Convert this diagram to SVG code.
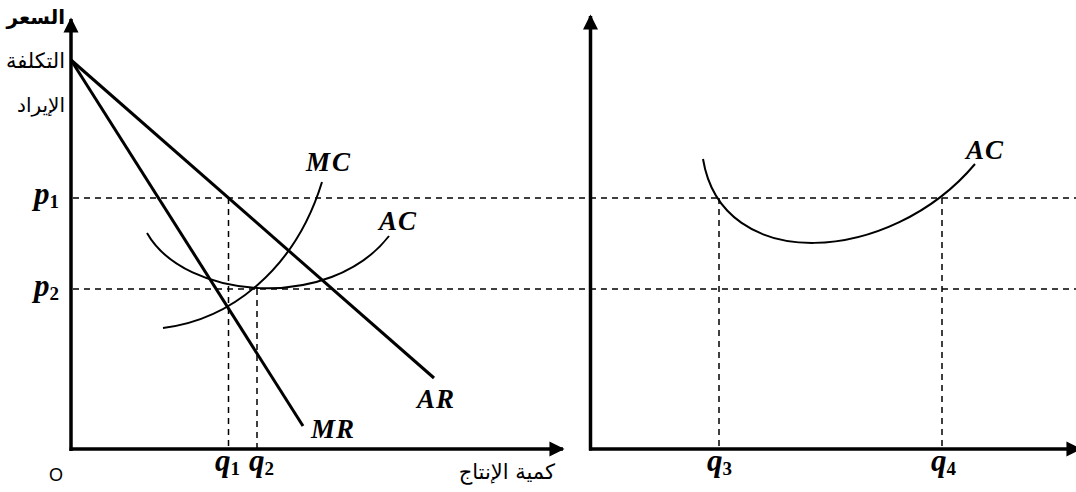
<svg xmlns="http://www.w3.org/2000/svg" width="1076" height="492" viewBox="0 0 1076 492">
<style>
.axis{stroke:#000;stroke-width:3.5;fill:none}
.line{stroke:#000;stroke-width:3;fill:none;stroke-linecap:butt}
.curve{stroke:#000;stroke-width:2;fill:none}
.dash{stroke:#000;stroke-width:1.5;stroke-dasharray:6,5;fill:none}
.math{font-family:"Liberation Serif","DejaVu Serif",serif;font-weight:bold;font-style:italic;fill:#000}
.sub{font-style:normal;font-weight:bold}
.ar{font-family:"DejaVu Sans","Noto Sans",sans-serif;fill:#000}
</style>
<defs>
<marker id="arrow" viewBox="0 0 10 10" refX="9" refY="5" markerWidth="4.3" markerHeight="4.3" markerUnits="strokeWidth" orient="auto">
<path d="M0,0 L10,5 L0,10 Z" fill="#000"/>
</marker>
</defs>
<rect width="1076" height="492" fill="#fff"/>
<g id="connectors">
<line class="dash" x1="73" y1="198" x2="1076" y2="198"/>
<line class="dash" x1="73" y1="289" x2="1076" y2="289"/>
<line class="dash" x1="228.5" y1="198" x2="228.5" y2="448"/>
<line class="dash" x1="257" y1="289" x2="257" y2="448"/>
<line class="dash" x1="719" y1="198" x2="719" y2="448"/>
<line class="dash" x1="942" y1="198" x2="942" y2="448"/>
<line class="axis" x1="71" y1="451" x2="71" y2="19" marker-end="url(#arrow)"/>
<line class="axis" x1="69.5" y1="449" x2="563" y2="449" marker-end="url(#arrow)"/>
<line class="axis" x1="590.5" y1="450.5" x2="590.5" y2="16" marker-end="url(#arrow)"/>
<line class="axis" x1="589" y1="449" x2="1080" y2="449" marker-end="url(#arrow)"/>
</g>
<g id="AR">
<line class="line" x1="71" y1="60" x2="434" y2="378"/>
</g>
<g id="MR">
<line class="line" x1="71" y1="60" x2="303" y2="426"/>
</g>
<g id="AC-left">
<path class="curve" d="M147,233 C185,300 330,312 389,236"/>
</g>
<g id="MC">
<path class="curve" d="M163,328 C230,320 295,270 322,182"/>
</g>
<g id="AC-right">
<path class="curve" d="M703,159 C722,275 890,265 975,164"/>
</g>
<g id="labels">
<text class="math" x="306" y="171" font-size="27" letter-spacing="2">MC</text>
<text class="math" x="379" y="230" font-size="27" letter-spacing="1">AC</text>
<text class="math" x="417" y="408" font-size="27" letter-spacing="1">AR</text>
<text class="math" x="311" y="438" font-size="27" letter-spacing="1">MR</text>
<text class="math" x="966" y="159" font-size="27" letter-spacing="1">AC</text>
<text class="math" x="34" y="204" font-size="31">p<tspan class="sub" font-size="19" dy="4">1</tspan></text>
<text class="math" x="34" y="296" font-size="31">p<tspan class="sub" font-size="19" dy="4">2</tspan></text>
<text class="math" x="215" y="471" font-size="31">q<tspan class="sub" font-size="19" dy="4">1</tspan></text>
<text class="math" x="249" y="471" font-size="31">q<tspan class="sub" font-size="19" dy="4">2</tspan></text>
<text class="math" x="707" y="471" font-size="31">q<tspan class="sub" font-size="19" dy="4">3</tspan></text>
<text class="math" x="931" y="471" font-size="31">q<tspan class="sub" font-size="19" dy="4">4</tspan></text>
<text x="49" y="481" font-family="Liberation Sans,Arial,sans-serif" font-size="18" fill="#000">O</text>
<text class="ar" x="65" y="24" font-size="20" font-weight="bold" text-anchor="end">السعر</text>
<text class="ar" x="65" y="68" font-size="21" text-anchor="end">التكلفة</text>
<text class="ar" x="65" y="112" font-size="20" text-anchor="end">الإيراد</text>
<text class="ar" x="555" y="479" font-size="21" text-anchor="end">كمية الإنتاج</text>
</g>
</svg>
